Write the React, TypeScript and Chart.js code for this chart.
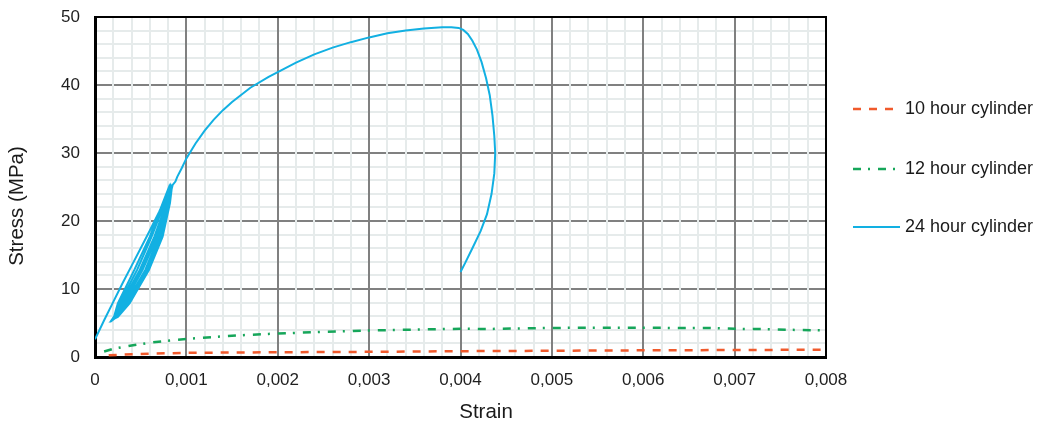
import React, { useEffect, useRef } from "react";
import { Chart, registerables } from "chart.js";

Chart.register(...registerables);

const seriesLabels = ["10 hour cylinder", "12 hour cylinder", "24 hour cylinder"];
const xTickLabels = ["0", "0,001", "0,002", "0,003", "0,004", "0,005", "0,006", "0,007", "0,008"];
const yTickLabels = ["0", "10", "20", "30", "40", "50"];
const xTitle = "Strain";
const yTitle = "Stress (MPa)";

const strain10 = [0.00015, 0.0003, 0.0005, 0.0008, 0.001, 0.0015, 0.002, 0.0025, 0.003, 0.0035, 0.004, 0.0045, 0.005, 0.0055, 0.006, 0.0065, 0.007, 0.0075, 0.008];
const stress10 = [0.25, 0.35, 0.45, 0.55, 0.62, 0.66, 0.7, 0.73, 0.76, 0.8, 0.86, 0.88, 0.92, 0.95, 0.98, 1.0, 1.03, 1.05, 1.08];

const strain12 = [0.0001, 0.0002, 0.0004, 0.0006, 0.0008, 0.001, 0.0013, 0.0016, 0.0019, 0.0022, 0.0025, 0.0028, 0.0031, 0.0034, 0.0037, 0.004, 0.0043, 0.0046, 0.0049, 0.0052, 0.0055, 0.0058, 0.0061, 0.0064, 0.0067, 0.007, 0.0073, 0.0076, 0.008];
const stress12 = [0.8, 1.2, 1.7, 2.1, 2.4, 2.65, 2.95, 3.2, 3.4, 3.55, 3.7, 3.82, 3.92, 4.0, 4.08, 4.15, 4.12, 4.2, 4.25, 4.3, 4.3, 4.3, 4.3, 4.25, 4.28, 4.15, 4.1, 4.0, 3.9];

const strain24 = [
  0, 0.0001, 0.0002, 0.0003, 0.0004, 0.0005, 0.0006, 0.0007, 0.0008, 0.00084,
  0.00082, 0.00078, 0.00068, 0.00052, 0.00032, 0.00022, 0.00019,
  0.00021, 0.00025, 0.00043, 0.0006, 0.00074, 0.00081,
  0.00082, 0.00079, 0.0007, 0.00055, 0.00034, 0.00023, 0.0002,
  0.00022, 0.00027, 0.00046, 0.00062, 0.00076, 0.00082,
  0.00083, 0.0008, 0.00072, 0.00057, 0.00036, 0.00024, 0.00021,
  0.00023, 0.00029, 0.00049, 0.00065, 0.00078, 0.00083,
  0.00084, 0.00082, 0.00074, 0.00059, 0.00038, 0.00025, 0.00022,
  0.00024, 0.00031, 0.00051, 0.00067, 0.0008, 0.00085,
  0.00088, 0.0009, 0.00095, 0.001, 0.0011, 0.0012, 0.0013, 0.0014, 0.0015, 0.0017, 0.0019, 0.002,
  0.0022, 0.0024, 0.0026, 0.0028, 0.003, 0.0032, 0.0034, 0.0036, 0.0038, 0.0039, 0.00398,
  0.00403, 0.00408, 0.00413, 0.00418, 0.00423, 0.00428, 0.00432, 0.00435, 0.00437, 0.00438,
  0.00437, 0.00434, 0.00429, 0.00422, 0.00413, 0.00405, 0.004,
];
const stress24 = [
  2.6, 5.4, 8.1, 10.8, 13.4, 16.0, 18.6, 21.3, 24.2, 25.3,
  24.8, 22.6, 17.7, 12.8, 7.9, 5.9, 5.6,
  6.0, 7.9, 12.8, 17.7, 22.6, 25.0,
  24.6, 22.6, 17.7, 12.8, 7.9, 5.9, 5.6,
  6.0, 7.9, 12.8, 17.7, 22.6, 25.1,
  24.7, 22.6, 17.7, 12.8, 7.9, 5.9, 5.6,
  6.0, 7.9, 12.8, 17.7, 22.6, 25.2,
  24.8, 22.6, 17.7, 12.8, 7.9, 5.9, 5.7,
  6.1, 7.9, 12.8, 17.7, 22.6, 25.3,
  25.8, 26.5, 27.8, 29.2, 31.4, 33.3, 34.9, 36.3, 37.5, 39.6, 41.2, 41.9,
  43.3, 44.5, 45.5, 46.3, 47.0, 47.6, 48.0, 48.3, 48.5, 48.5, 48.4,
  48.1, 47.5, 46.5, 45.2, 43.4, 41.0, 38.5, 35.5, 32.5, 30.0,
  27.0, 24.0, 21.0, 18.5, 16.0, 13.8, 12.5,
];

const colors = ["#f05a2c", "#16a65a", "#12b0e2"];
const dashes = [[8, 8], [8, 7, 2, 8], []];

const FONT = "'Liberation Sans', Arial, sans-serif";

const zip = (xs: number[], ys: number[]) => xs.map((x, i) => ({ x, y: ys[i] }));

const overlayPlugin = {
  id: "overlay",
  afterDraw(chart: any) {
    const ctx = chart.ctx;
    const a = chart.chartArea;
    ctx.save();
    ctx.strokeStyle = "#000";
    ctx.lineWidth = 2;
    ctx.setLineDash([]);
    ctx.beginPath();
    ctx.moveTo(a.left, a.top);
    ctx.lineTo(a.right, a.top);
    ctx.lineTo(a.right, a.bottom);
    ctx.stroke();

    ctx.fillStyle = "#1a1a1a";
    ctx.font = `20.5px ${FONT}`;
    ctx.textAlign = "center";
    ctx.textBaseline = "middle";
    ctx.fillText(xTitle, 486, 412);
    ctx.save();
    ctx.translate(17, 206);
    ctx.rotate(-Math.PI / 2);
    ctx.fillText(yTitle, 0, 0);
    ctx.restore();

    const ys = [109, 169, 227];
    const ends = [893, 895, 900];
    chart.data.datasets.forEach((ds: any, i: number) => {
      ctx.strokeStyle = ds.borderColor;
      ctx.lineWidth = ds.borderWidth;
      ctx.setLineDash(ds.borderDash || []);
      ctx.beginPath();
      ctx.moveTo(853, ys[i]);
      ctx.lineTo(ends[i], ys[i]);
      ctx.stroke();
      ctx.setLineDash([]);
      ctx.fillStyle = "#1a1a1a";
      ctx.font = `18px ${FONT}`;
      ctx.textAlign = "left";
      ctx.textBaseline = "middle";
      ctx.fillText(ds.label, 905, ys[i]);
    });
    ctx.restore();
  },
};

export default function App() {
  const ref = useRef<HTMLCanvasElement>(null);
  useEffect(() => {
    document.body.style.margin = "0";
    if (!ref.current) return;
    const chart = new Chart(ref.current, {
      type: "scatter",
      data: {
        datasets: [
          { label: seriesLabels[0], data: zip(strain10, stress10), borderColor: colors[0], backgroundColor: colors[0], borderWidth: 2.5, borderDash: dashes[0], showLine: true, pointRadius: 0, tension: 0 },
          { label: seriesLabels[1], data: zip(strain12, stress12), borderColor: colors[1], backgroundColor: colors[1], borderWidth: 2.5, borderDash: dashes[1], showLine: true, pointRadius: 0, tension: 0 },
          { label: seriesLabels[2], data: zip(strain24, stress24), borderColor: colors[2], backgroundColor: colors[2], borderWidth: 2, borderDash: dashes[2], showLine: true, pointRadius: 0, tension: 0 },
        ],
      },
      options: {
        animation: false,
        responsive: false,
        layout: { padding: { top: 17, right: 211, left: 0, bottom: 0 } },
        plugins: { legend: { display: false }, tooltip: { enabled: false } },
        scales: {
          x: {
            type: "linear",
            min: 0,
            max: 0.008,
            afterFit: (s: any) => { s.height = 71; s.paddingLeft = 0; s.paddingRight = 0; },
            ticks: {
              stepSize: 0.0002,
              autoSkip: false,
              maxRotation: 0,
              padding: 13,
              color: "#1f1f1f",
              font: { family: FONT, size: 17 },
              callback: (_v: any, i: number) => (i % 5 === 0 ? xTickLabels[i / 5] : ""),
            },
            grid: {
              z: -1,
              drawTicks: false,
              lineWidth: 2,
              color: (c: any) => (c.index % 5 === 0 ? "#808080" : "#e6ebeb"),
            },
            border: { color: "#000", width: 3 },
          },
          y: {
            type: "linear",
            min: 0,
            max: 50,
            afterFit: (s: any) => { s.width = 95; s.paddingTop = 0; s.paddingBottom = 0; },
            ticks: {
              stepSize: 2,
              autoSkip: false,
              padding: 15,
              color: "#1f1f1f",
              font: { family: FONT, size: 17 },
              callback: (_v: any, i: number) => (i % 5 === 0 ? yTickLabels[i / 5] : ""),
            },
            grid: {
              z: -2,
              drawTicks: false,
              lineWidth: 2,
              color: (c: any) => (c.index % 5 === 0 ? "#808080" : "#e6ebeb"),
            },
            border: { color: "#000", width: 3 },
          },
        },
      },
      plugins: [overlayPlugin],
    });
    return () => chart.destroy();
  }, []);
  return (
    <div style={{ width: 1037, height: 428 }}>
      <canvas ref={ref} width={1037} height={428} style={{ display: "block" }} />
    </div>
  );
}
